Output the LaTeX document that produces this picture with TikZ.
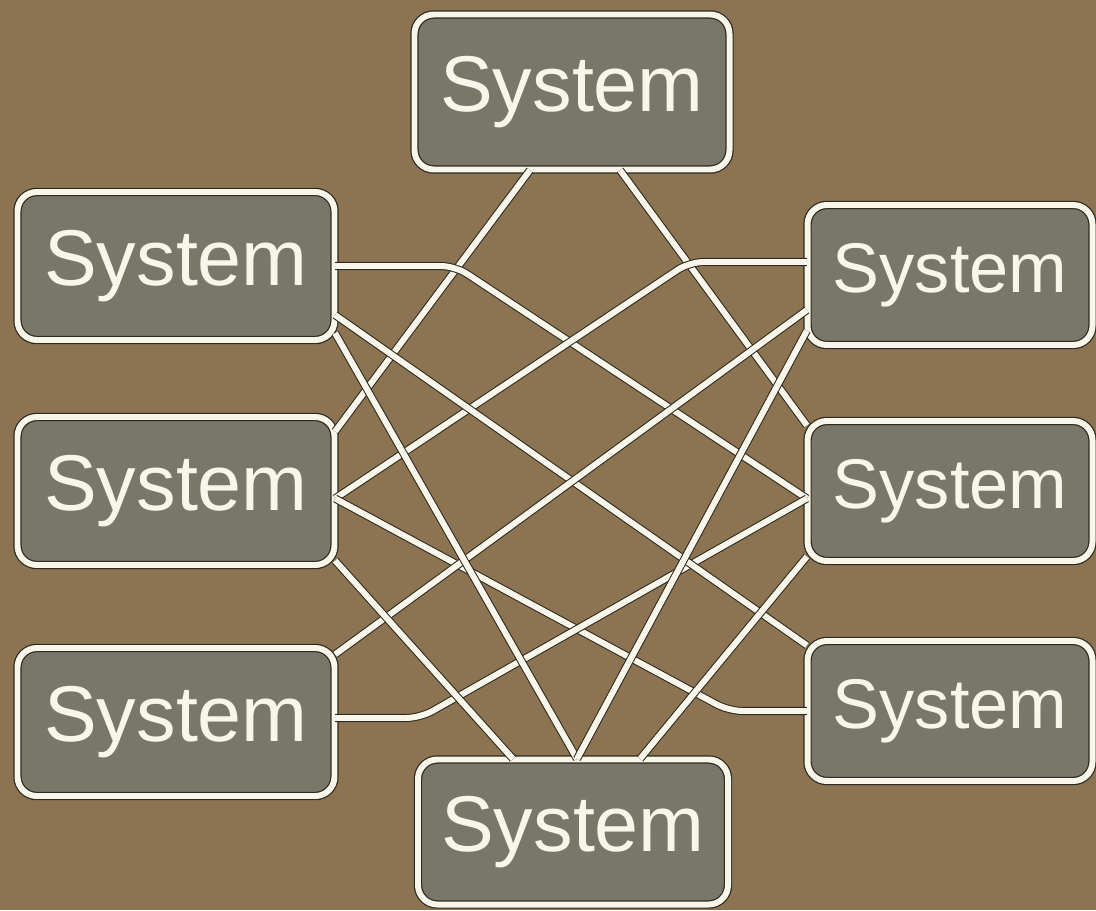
\documentclass[tikz,border=0pt]{standalone}
\usepackage{fontspec}
\setmainfont{Liberation Sans}
\usetikzlibrary{positioning,calc}
\definecolor{bgbrown}{RGB}{140,116,82}
\definecolor{boxgrey}{RGB}{119,120,104}
\definecolor{cream}{RGB}{248,246,234}
\definecolor{edgedark}{RGB}{45,42,32}

\begin{document}
\begin{tikzpicture}[
  every node/.style={font=\fontsize{45}{47}\selectfont},
  system/.style={rectangle,rounded corners=11pt,fill=boxgrey,draw=edgedark,
                 double=cream,double distance=3.4pt,line width=0.7pt,
                 text=cream,minimum width=6.2cm,minimum height=2.9cm},
  sidebox/.style={system,font=\fontsize{40}{42}\selectfont,
                  minimum width=5.7cm,minimum height=2.8cm},
  link/.style={draw=edgedark,double=cream,double distance=3.4pt,
               line width=0.6pt,rounded corners=8pt},
]

% Background
\fill[bgbrown] (0,0) rectangle (21.92,18.2);
\useasboundingbox (0,0) rectangle (21.92,18.2);

% Systems
\node[system,minimum width=6.3cm,minimum height=3.1cm] (top) at (11.44,16.36) {System};
\node[system,minimum width=6.34cm,minimum height=2.96cm] (l1) at (3.52,12.88) {System};
\node[system,minimum width=6.34cm,minimum height=2.96cm] (l2) at (3.52,8.38) {System};
\node[system,minimum width=6.34cm,minimum height=2.96cm] (l3) at (3.52,3.76) {System};
\node[sidebox] (r1) at (19.0,12.7) {System};
\node[sidebox] (r2) at (19.0,8.38) {System};
\node[sidebox] (r3) at (19.0,3.98) {System};
\node[system,minimum width=6.2cm,minimum height=2.9cm] (bot) at (11.46,1.56) {System};

% Links from the top
\draw[link] ([xshift=-0.84cm]top.south) -- ([yshift=-0.3cm]l2.north east);
\draw[link] ([xshift=0.96cm]top.south) -- ([yshift=-0.1cm]r2.north west);

% Bent links
\draw[link] (l1.east) -- ++(2.4,0) -- ([yshift=-0.15cm]r2.west);
\draw[link] ([yshift=0.26cm]r1.west) -- ++(-2.35,0) -- ([yshift=-0.15cm]l2.east);
\draw[link] (r3.west) -- ++(-1.56,0) -- ([yshift=-0.15cm]l2.east);
\draw[link] ([yshift=0.08cm]l3.east) -- ++(1.7,0) -- ([yshift=-0.15cm]r2.west);

% Crossing links
\draw[link] ([yshift=-0.98cm]l1.east) -- ([yshift=-0.1cm]r3.north west);
\draw[link] ([yshift=-0.14cm]l3.north east) -- ([yshift=-0.7cm]r1.west);

% Links to the bottom
\draw[link] ([yshift=0.15cm]l1.south east) -- ([xshift=0.08cm]bot.north);
\draw[link] ([yshift=0.3cm]r1.south west) -- ([xshift=0.08cm]bot.north);
\draw[link] ([yshift=0.1cm]l2.south east) -- ([xshift=-1.2cm]bot.north);
\draw[link] ([yshift=0.1cm]r2.south west) -- ([xshift=1.34cm]bot.north);

\end{tikzpicture}
\end{document}
